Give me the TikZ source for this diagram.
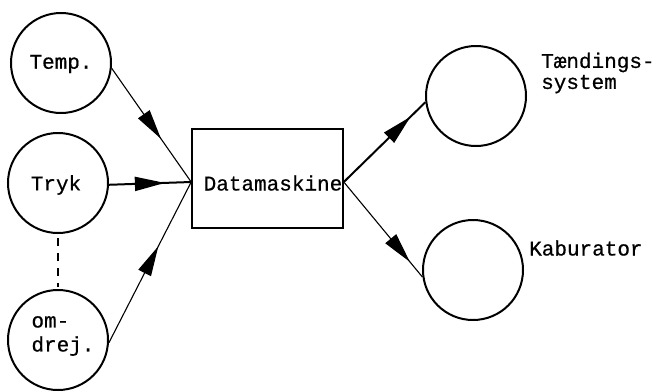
\documentclass[tikz,border=0pt]{standalone}
\usepackage{fontspec}
\setmainfont{Liberation Mono}[FakeBold=0.6]
\usetikzlibrary{arrows.meta,decorations.markings}

\tikzset{
  bighead/.tip={Triangle[length=30pt,width=14pt]},
  unit/.style={circle, draw, line width=2pt, minimum size=100pt, inner sep=0pt},
  lbl/.style={font=\fontsize{21}{23}\selectfont, inner sep=0pt},
  cpu/.style={draw, line width=1.6pt, minimum width=151pt, minimum height=99pt, inner sep=0pt},
  midarrow/.style={postaction={decorate}, decoration={markings,
      mark=at position #1 with {\arrow{bighead}}}},
  thinline/.style={line width=1.1pt},
  thickline/.style={line width=2pt},
  linkdash/.style={line width=2.6pt, dash pattern=on 8pt off 7pt}
}

\begin{document}
\begin{tikzpicture}[x=1pt, y=-1pt]
  \useasboundingbox (0,0) rectangle (658,391);

  % sensors on the left
  \node[unit] (temp) at (61,63) {};
  \node[lbl] at (61,64) {Temp.};
  \node[unit] (tryk) at (58,183) {};
  \node[lbl] at (56,185) {Tryk};
  \node[unit] (omdr) at (58,340) {};
  \node[lbl, align=left] at (63,336) {om-\\[1pt]drej.};

  % computer
  \node[cpu] (cpu) at (267.5,178.5) {};
  \node[lbl] at (273,183) {Datamaskine};
  \coordinate (inL) at ([yshift=-3.5pt]cpu.west);
  \coordinate (outR) at ([yshift=-3.5pt]cpu.east);

  % actuators on the right
  \node[unit] (taend) at (476,96) {};
  \node[lbl, anchor=west, align=left] at (541,73) {Tændings-\\[-2pt]system};
  \node[unit] (kab) at (473,270) {};
  \node[lbl, anchor=west] at (529,248) {Kaburator};

  % signal paths
  \draw[thinline, midarrow=0.62] (temp.-6) -- (inL);
  \draw[thickline, midarrow=0.68] (tryk.-2) -- (inL);
  \draw[thinline, midarrow=0.6] (omdr.-3) -- (inL);
  \draw[linkdash] ([yshift=-4pt]tryk.south) -- ([yshift=2pt]omdr.north);
  \draw[thickline, midarrow=0.82] (outR) -- (taend.187);
  \draw[thinline, midarrow=0.84] (outR) -- (kab.188);
\end{tikzpicture}
\end{document}
